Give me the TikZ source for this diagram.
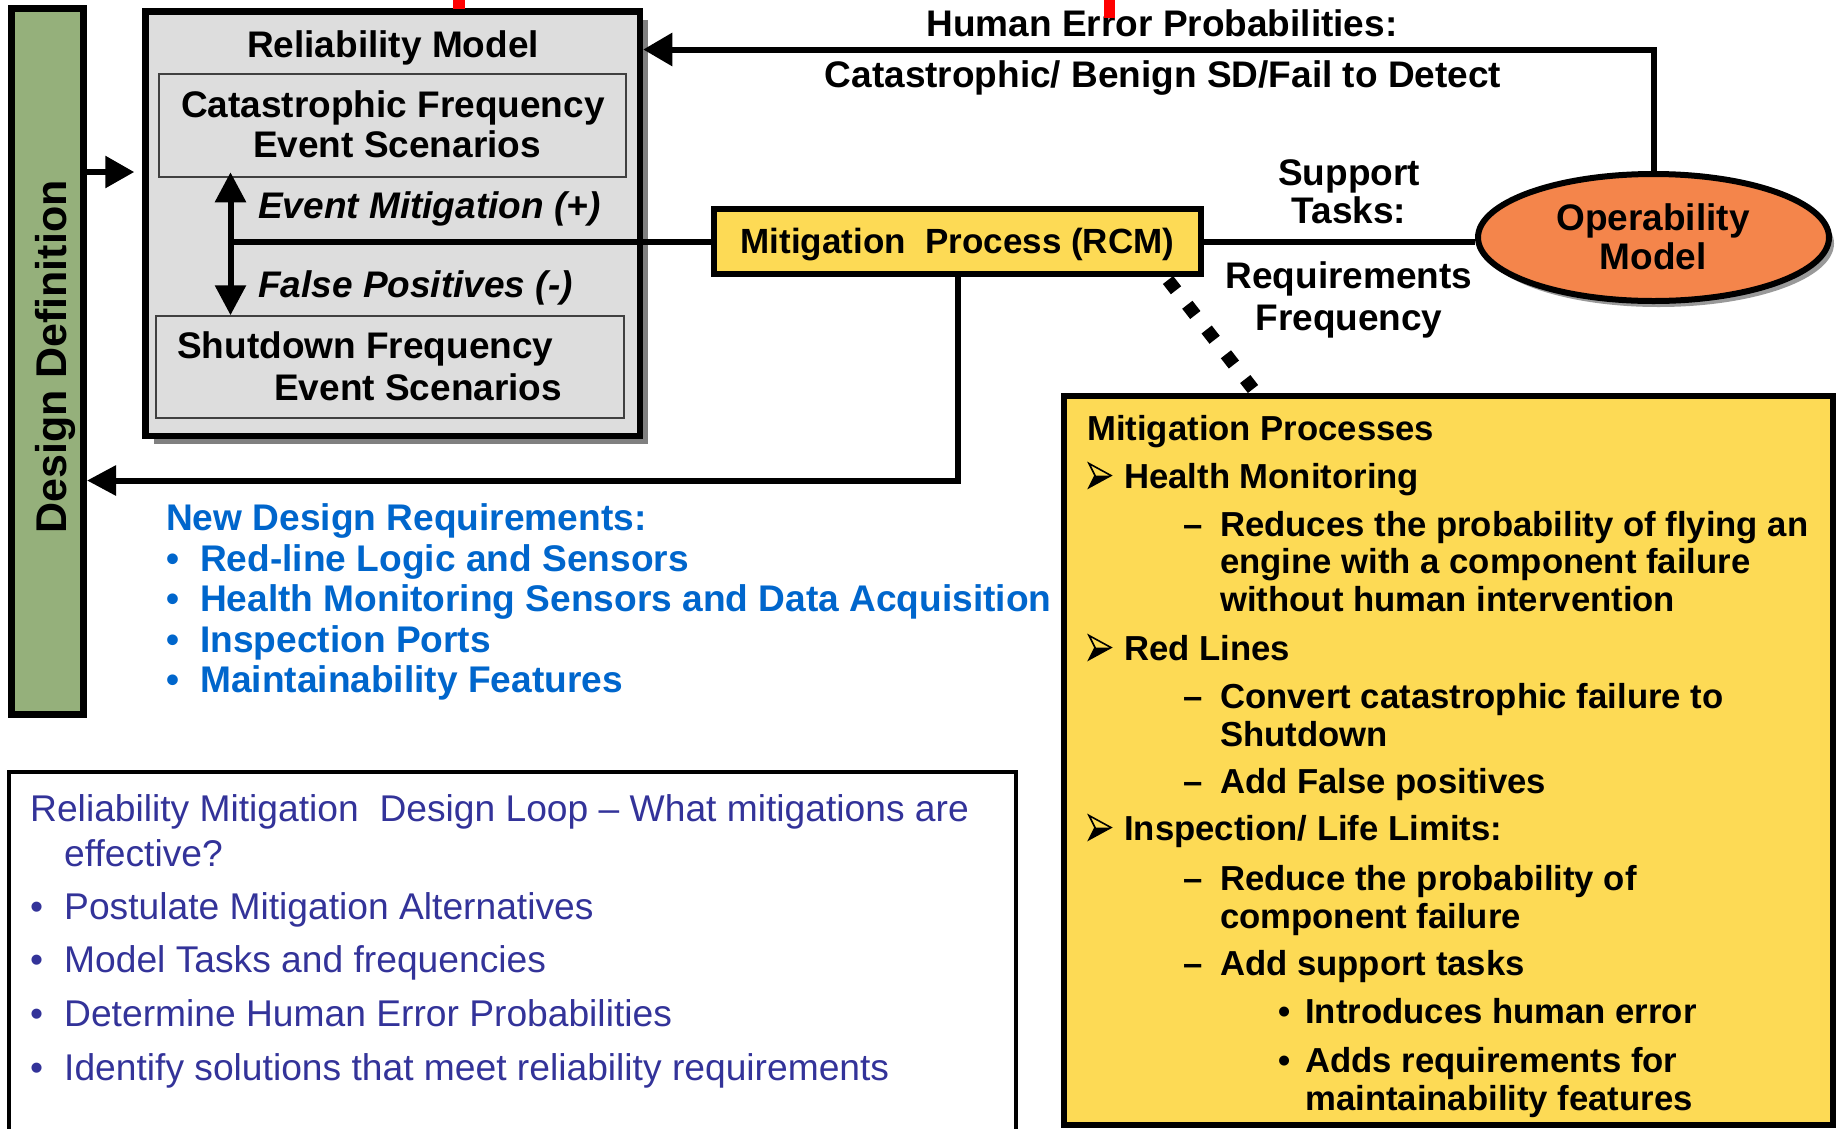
\documentclass[tikz,border=0pt]{standalone}
\usepackage{fontspec}
\setmainfont{Liberation Sans}
\usetikzlibrary{arrows.meta,shapes.geometric,shadows}

\definecolor{barfill}{HTML}{95B07B}
\definecolor{relfill}{HTML}{DDDDDD}
\definecolor{procfill}{HTML}{FDDA55}
\definecolor{opfill}{HTML}{F4854B}
\definecolor{reqblue}{HTML}{0066CC}
\definecolor{loopblue}{HTML}{333399}

\begin{document}
\begin{tikzpicture}[x=1pt,y=-1pt,
  frame/.style={draw, rectangle, inner sep=0pt},
  conn/.style={line width=6pt},
  hd/.style={font=\bfseries\fontsize{37}{44}\selectfont, inner sep=0pt},
  hdi/.style={font=\bfseries\itshape\fontsize{37}{44}\selectfont, inner sep=0pt},
  req/.style={font=\bfseries\fontsize{37.1}{44}\selectfont, text=reqblue, inner sep=0pt, anchor=base west},
  loop/.style={font=\fontsize{37.2}{44}\selectfont, text=loopblue, inner sep=0pt, anchor=base west},
  proc/.style={font=\bfseries\fontsize{34.7}{41}\selectfont, inner sep=0pt, anchor=base west},
  headtip/.style={-{Triangle[length=29pt,width=31pt]}},
  % three-dimensional arrowhead bullet of the process list
  procarrow/.pic={
    \fill[black] (0,12) -- (22,0) -- (6,0) -- cycle;
    \draw[line width=1.6pt, line join=miter] (6,0) -- (0,-12) -- (22,0) -- (0,12) -- cycle;
  }
]
\useasboundingbox (0,0) rectangle (1836,1128);
\clip (0,0) rectangle (1836,1128);

% --- boxes ---
\node[frame, fill=barfill, line width=7pt, minimum width=72pt, minimum height=705.5pt] (design) at (47.5,361.25) {};
\node[frame, fill=relfill, line width=6.5pt, minimum width=494.5pt, minimum height=424.5pt,
      drop shadow={shadow xshift=8pt, shadow yshift=-8pt, fill=black!50, opacity=1}] (relbox) at (392.75,223.75) {};
\node[frame, draw=black!75, line width=1.5pt, minimum width=467pt, minimum height=103pt] (catbox) at (392.5,125.5) {};
\node[frame, draw=black!75, line width=1.5pt, minimum width=468pt, minimum height=102pt] (sdbox) at (390,367) {};
\node[frame, fill=procfill, line width=6pt, minimum width=487pt, minimum height=65pt] (mpbox) at (957.5,241.5) {};
\node[ellipse, draw, fill=opfill, line width=6pt, minimum width=351pt, minimum height=127pt, inner sep=0pt,
      drop shadow={shadow xshift=5pt, shadow yshift=-6pt, fill=black!40, opacity=1}] (opmodel) at (1653.5,237.5) {};
\node[frame, fill=procfill, line width=6pt, minimum width=769pt, minimum height=729pt] (mitlist) at (1448.5,760.5) {};
\node[frame, line width=4pt, minimum width=1007pt, minimum height=378pt] (loopbox) at (512,961) {};

% --- helper coordinates for connector levels ---
\coordinate (yin) at (0,172);
\coordinate (xv) at (230.5,0);
\coordinate (ytop) at (0,49.5);
\coordinate (ybot) at (0,480.5);

% --- connectors ---
\draw[conn, headtip, shorten >=8pt] (design.east |- yin) -- (relbox.west |- yin);
\draw[conn, {Triangle[length=30pt,width=30pt]}-{Triangle[length=30pt,width=30pt]}, shorten <=-5.5pt]
  (catbox.south -| xv) -- (sdbox.north -| xv);
\draw[conn] (xv |- mpbox.west) -- (mpbox.west);
\draw[conn] (mpbox.east) -- (mpbox.east -| opmodel.west);
\draw[conn, -{Triangle[length=29pt,width=32pt]}] (opmodel.north) |- (relbox.east |- ytop);
\draw[conn, -{Triangle[length=29pt,width=29pt]}] (mpbox.south) |- (design.east |- ybot);
\draw[line width=13pt, dash pattern=on 13pt off 18.4pt]
  ([xshift=-36pt,yshift=-3pt]mpbox.south east) -- ([xshift=192pt,yshift=4pt]mitlist.north west);

% --- labels: reliability model ---
\node[hd, anchor=base] (relTitle) at (393,57) {Reliability Model};
\node[hd, anchor=base] (catL1) at (393,117) {Catastrophic Frequency};
\node[hd, anchor=base] (catL2) at (397,157) {Event Scenarios};
\node[hdi, anchor=base west] (mitPlus) at (258,218) {Event Mitigation (+)};
\node[hdi, anchor=base west] (fpMinus) at (258,297) {False Positives (-)};
\node[hd, anchor=base west] (sdL1) at (177,358) {Shutdown Frequency};
\node[hd, anchor=base west] (sdL2) at (274,400) {Event Scenarios};

% --- labels: process, operability, connector texts ---
\node[hd, anchor=base, font=\bfseries\fontsize{35}{42}\selectfont] (mpText) at (957.5,253) {Mitigation\ \ Process (RCM)};
\node[hd, anchor=base] (heTop) at (1162,36) {Human Error Probabilities:};
\node[hd, anchor=base] (heBot) at (1163,87) {Catastrophic/ Benign SD/Fail to Detect};
\node[hd, anchor=base] (supL1) at (1349,185) {Support};
\node[hd, anchor=base] (supL2) at (1349,223) {Tasks:};
\node[hd, anchor=base] (rfL1) at (1349,288) {Requirements};
\node[hd, anchor=base] (rfL2) at (1349,330) {Frequency};
\node[hd, anchor=base] (opL1) at (1653,230) {Operability};
\node[hd, anchor=base] (opL2) at (1653,269) {Model};
\node[hd, anchor=base, rotate=90, font=\bfseries\fontsize{43}{50}\selectfont] (designText) at (66,357) {Design Definition};

% --- new design requirements ---
\node[req] (ndrHead) at (166,530) {New Design Requirements:};
\node[req] (ndrB1) at (166,571) {•};
\node[req] (ndr1) at (200,571) {Red-line Logic and Sensors};
\node[req] (ndrB2) at (166,611.5) {•};
\node[req] (ndr2) at (200,611.5) {Health Monitoring Sensors and Data Acquisition};
\node[req] (ndrB3) at (166,652) {•};
\node[req] (ndr3) at (200,652) {Inspection Ports};
\node[req] (ndrB4) at (166,692.5) {•};
\node[req] (ndr4) at (200,692.5) {Maintainability Features};

% --- design loop notes ---
\node[loop] (loopHead) at (30,821.5) {Reliability Mitigation\ \ Design Loop – What mitigations are};
\node[loop] (loopHead2) at (64,866) {effective?};
\node[loop] (loopB1) at (30,919) {•};
\node[loop] (loop1) at (64,919) {Postulate Mitigation Alternatives};
\node[loop] (loopB2) at (30,972) {•};
\node[loop] (loop2) at (64,972) {Model Tasks and frequencies};
\node[loop] (loopB3) at (30,1026) {•};
\node[loop] (loop3) at (64,1026) {Determine Human Error Probabilities};
\node[loop] (loopB4) at (30,1080) {•};
\node[loop] (loop4) at (64,1080) {Identify solutions that meet reliability requirements};

% --- mitigation processes list ---
\node[proc] (procHead) at (1087,440) {Mitigation Processes};
\pic at (1089,475.5) {procarrow};
\node[proc] (p1) at (1124,488) {Health Monitoring};
\node[proc] (pd1) at (1183,536) {–};
\node[proc] (p1a) at (1220,536) {Reduces the probability of flying an};
\node[proc] (p1b) at (1220,573) {engine with a component failure};
\node[proc] (p1c) at (1220,611) {without human intervention};
\pic at (1089,647.5) {procarrow};
\node[proc] (p2) at (1124,660) {Red Lines};
\node[proc] (pd2) at (1183,708) {–};
\node[proc] (p2a) at (1220,708) {Convert catastrophic failure to};
\node[proc] (p2b) at (1220,746) {Shutdown};
\node[proc] (pd3) at (1183,793) {–};
\node[proc] (p2c) at (1220,793) {Add False positives};
\pic at (1089,827.5) {procarrow};
\node[proc] (p3) at (1124,840) {Inspection/ Life Limits:};
\node[proc] (pd4) at (1183,890) {–};
\node[proc] (p3a) at (1220,890) {Reduce the probability of};
\node[proc] (p3b) at (1220,928) {component failure};
\node[proc] (pd5) at (1183,975) {–};
\node[proc] (p3c) at (1220,975) {Add support tasks};
\node[proc] (pb1) at (1278,1023) {•};
\node[proc] (p3d) at (1305,1023) {Introduces human error};
\node[proc] (pb2) at (1278,1072) {•};
\node[proc] (p3e) at (1305,1072) {Adds requirements for};
\node[proc] (p3f) at (1305,1110) {maintainability features};

% --- red marks along the top edge ---
\fill[red] (453,0) rectangle (465,9);
\fill[red] (1104,0) rectangle (1115,18);
\end{tikzpicture}
\end{document}
